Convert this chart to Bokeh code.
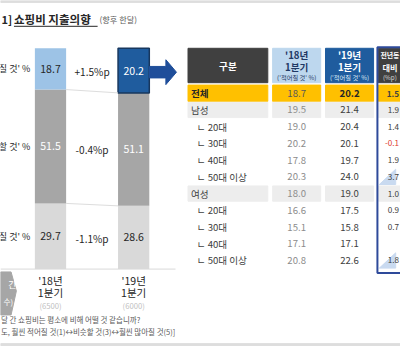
from bokeh.plotting import figure
from bokeh.models import Range1d
from bokeh.core.properties import value
from bokeh.embed import file_html
from bokeh.resources import INLINE

# ---------------- data ----------------
answer_labels = ["질 것' %", "할 것' %", "질 것' %"]   # 적어질 / 비슷할 / 많아질 (cropped in source)
period_year = ["'18년", "'19년"]
period_q = ["1분기", "1분기"]
period_n = ["(6500)", "(6000)"]
share_18 = [18.7, 51.5, 29.7]   # 적어질 것, 비슷할 것, 많아질 것
share_19 = [20.2, 51.1, 28.6]

groups = ["전체", "남성", "ㄴ 20대", "ㄴ 30대", "ㄴ 40대", "ㄴ 50대 이상",
          "여성", "ㄴ 20대", "ㄴ 30대", "ㄴ 40대", "ㄴ 50대 이상"]
less_18 = [18.7, 19.5, 19.0, 20.2, 17.8, 20.3, 18.0, 16.6, 15.1, 17.1, 20.8]
less_19 = [20.2, 21.4, 20.4, 20.1, 19.7, 24.0, 19.0, 17.5, 15.8, 17.1, 22.6]
diff_labels = ["1.5", "1.9", "1.4", "-0.1", "1.9", "3.7", "1.0", "0.9", "0.7", "", "1.8"]
highlight_rows = [5, 10]

title_num = "1]"
title_main = "쇼핑비 지출의향"
title_sub = "(향후 한달)"
note1 = "달 간 쇼핑비는 평소에 비해 어떨 것 같습니까?"
note2 = "도, 훨씬 적어질 것(1)↔비슷할 것(3)↔훨씬 많아질 것(5)]"
col4_head = ["전년동", "대비", "(%p)"]

# ---------------- figure ----------------
FONT = "Noto Sans CJK KR"
FS = 0.96
W, H = 416, 362
p = figure(width=400, height=346, x_range=Range1d(0, W), y_range=Range1d(H, 0),
           output_backend="svg", toolbar_location=None, min_border=0)
p.axis.visible = False
p.grid.visible = False
p.outline_line_color = None
p.background_fill_color = "white"
p.border_fill_color = "white"

BASE_Y, PX_PER_PCT = 281.0, 2.313
p.extra_y_ranges = {"pct": Range1d(start=(BASE_Y - H) / PX_PER_PCT, end=BASE_Y / PX_PER_PCT)}


def txt(x, y, s, size, color, align="left", bold=False, yr="default"):
    if not isinstance(x, list):
        x, y, s = [x], [y], [s]
    p.text(x=x, y=y, text=s, text_font=value(FONT), text_font_size=f"{size*FS:.2f}px",
           text_color=color, text_align=align, text_baseline="middle",
           text_font_style="bold" if bold else "normal", y_range_name=yr)


# frame lines
p.quad(left=[0], right=[W], top=[0], bottom=[2], color="#DDDDDD")
p.quad(left=[0], right=[W], top=[359], bottom=[361], color="#DDDDDD")

# title
txt(1, 19, title_num, 11.5, "#262626", bold=True)
txt(14, 19, title_main, 12, "#262626", bold=True)
p.segment(x0=[14], y0=[27], x1=[101], y1=[27], line_color="#262626", line_width=1)
txt(103, 20, title_sub, 8.5, "#595959")

# ---------------- stacked bars ----------------
bar_x = [52, 138.5]
bar_w = 32.5
seg_fill = [["#9DC3E6", "#A6A6A6", "#D9D9D9"], ["#1F5C9E", "#A6A6A6", "#D9D9D9"]]
seg_text = [["#262626", "white", "#262626"], ["white", "white", "#262626"]]
mids = []
for bi, shares in enumerate([share_18, share_19]):
    order = [2, 1, 0]   # stack from bottom: 많아질, 비슷할, 적어질
    bottom = 0.0
    m = {}
    for k in order:
        top = bottom + shares[k]
        p.vbar(x=[bar_x[bi]], width=bar_w, bottom=[bottom], top=[top],
               fill_color=seg_fill[bi][k], line_color=None, y_range_name="pct")
        m[k] = ((bottom + top) / 2, bottom, top)
        bottom = top
    mids.append(m)
    for k in range(3):
        txt(bar_x[bi], m[k][0], f"{shares[k]:.1f}", 11, seg_text[bi][k], align="center", yr="pct")

# outline for 2019 top segment
p.vbar(x=[bar_x[1]], width=bar_w, bottom=[mids[1][0][1]], top=[mids[1][0][2]],
       fill_color=None, line_color="#17375E", line_width=1.5, y_range_name="pct")

# connectors between bars
for k in [1, 2]:
    p.segment(x0=[bar_x[0] + bar_w / 2], y0=[mids[0][k][2]], x1=[bar_x[1] - bar_w / 2], y1=[mids[1][k][2]],
              line_color="#DDDDDD", line_width=1, y_range_name="pct")

# change labels and row labels
for k in range(3):
    d = share_19[k] - share_18[k]
    lab = (f"+{d:.1f}%p" if d > 0 else f"{d:.1f}%p")
    ym = (mids[0][k][0] + mids[1][k][0]) / 2
    txt((bar_x[0] + bar_x[1]) / 2, ym - 0.6, lab, 10.5, "#262626", align="center", yr="pct")
    txt(31, mids[0][k][0], answer_labels[k], 9.4, "#262626", align="right", yr="pct")

# baseline
p.segment(x0=[0], y0=[0], x1=[182], y1=[0], line_color="#D9D9D9", line_width=1, y_range_name="pct")

# arrow
p.patch(x=[155, 172, 172, 183, 172, 172, 155], y=[69, 69, 62, 75, 88, 81, 81], color="#1F4E9A")

# bottom-left hexagon label
p.patch(x=[0, 11, 16.5, 11, 0], y=[284, 284, 304, 329, 329], color="#A6A6A6")
txt(8, 297, "간", 9.5, "white", align="left")
txt(3, 315, "수)", 8, "white", align="left")

# x labels
for bi in range(2):
    txt(bar_x[bi], 293, period_year[bi], 11, "#262626", align="center")
    txt(bar_x[bi], 306, period_q[bi], 11, "#262626", align="center")
    txt(bar_x[bi], 319.5, period_n[bi], 8, "#BFBFBF", align="center")

# notes
txt(0.5, 334, note1, 7.8, "#595959")
txt(0.5, 346, note2, 7.8, "#595959")

# ---------------- table ----------------
c_left = [195, 283, 338, 393]
c_right = [278, 333, 388, 445]
c_mid = [(a + b) / 2 for a, b in zip(c_left, c_right)]

# header
p.quad(left=[c_left[0]], right=[c_right[0]], top=[50], bottom=[86], color="#404040")
p.quad(left=[c_left[1]], right=[c_right[1]], top=[50], bottom=[86], color="#BDD7EE")
p.quad(left=[c_left[2]], right=[c_right[2]], top=[50], bottom=[86], color="#1F5C9E")
p.quad(left=[c_left[3]], right=[c_right[3]], top=[50], bottom=[86], color="#404040")
txt(c_mid[0], 69, "구분", 10, "white", align="center", bold=True)
for ci, (col, sub) in enumerate([("#1F3864", "#1F3864"), ("white", "#DDEBF7")]):
    cx = c_mid[ci + 1]
    txt(cx, 57.5, period_year[ci], 10, col, align="center", bold=True)
    txt(cx, 70, period_q[ci], 10, col, align="center", bold=True)
    txt(cx, 81, "('적어질 것' %)", 6.5, sub, align="center")
c4x = 405
txt(c4x, 57.5, col4_head[0], 7.2, "white", align="center", bold=True)
txt(c4x, 70, col4_head[1], 8.5, "white", align="center", bold=True)
txt(c4x, 81, col4_head[2], 6.5, "#D9D9D9", align="center")

# rows
PITCH = 17.5
for i, g in enumerate(groups):
    yc = 97 + PITCH * i
    if i == 0:
        bg, h = "#FFC000", 17
    elif g in ("남성", "여성"):
        bg, h = "#EDEDED", 16
    else:
        bg, h = None, 16
    if bg:
        p.quad(left=c_left, right=c_right, top=[yc - h / 2] * 4, bottom=[yc + h / 2] * 4, color=bg)
    if i in highlight_rows:
        p.patch(x=[394, 411, 411], y=[yc + 8, yc + 8, yc - 8], color="#C9DAF0")
    top_level = not g.startswith("ㄴ")
    txt(198 if top_level else 204, yc, g, 10, "#262626" if i == 0 else "#404040", bold=(i == 0))
    txt(c_mid[1], yc, f"{less_18[i]:.1f}", 10, "#595959" if i == 0 else "#8C8C8C", align="center")
    txt(c_mid[2], yc, f"{less_19[i]:.1f}", 10, "#262626" if i == 0 else "#404040", align="center",
        bold=(i == 0))
    dl = diff_labels[i]
    if dl:
        txt(414.5, yc, dl, 8.5, "#E03C31" if dl.startswith("-") else "#404040",
            align="right", bold=(i == 0))

# column-4 blue frame
p.quad(left=[392], right=[450], top=[49], bottom=[285], fill_color=None,
       line_color="#2E4A9A", line_width=2)

open("out.html", "w").write(file_html(p, INLINE))
